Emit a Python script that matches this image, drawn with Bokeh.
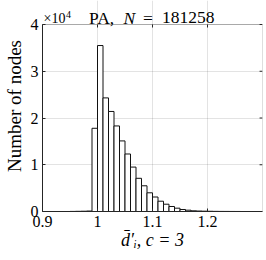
from bokeh.plotting import figure
from bokeh.models import Range1d, FixedTicker, CustomJSTickFormatter, BoxAnnotation
from bokeh.core.properties import value
from bokeh.embed import file_html
from bokeh.resources import INLINE

# data (counts per bin, bin width 0.01)
bin_left = [0.95, 0.96, 0.97, 0.98, 0.99, 1.00, 1.01, 1.02, 1.03, 1.04, 1.05, 1.06,
            1.07, 1.08, 1.09, 1.10, 1.11, 1.12, 1.13, 1.14, 1.15, 1.16, 1.17,
            1.18, 1.19, 1.20, 1.21, 1.22, 1.23, 1.24, 1.25]
bin_width = 0.01
counts = [20, 40, 60, 100, 17800, 35500, 24300, 21400, 18300, 15100, 12300, 9500,
          7100, 5500, 4000, 3100, 2200, 1560, 1070, 710, 430, 280, 150,
          100, 70, 50, 30, 20, 15, 10, 5]
x_min, x_max = 0.9, 1.3
y_min, y_max = 0, 40000
x_ticks = [0.9, 1.0, 1.1, 1.2]
y_ticks = [0, 10000, 20000, 30000, 40000]
title_parts = ["PA,", "N", "=", "181258"]
exp_parts = ["\u00d710", "4"]
x_label = "d\u0304\u2032\u1d62, c = 3"
y_label = "Number of nodes"

FONT = "Liberation Serif"
AX = "#262626"
W, H = 266, 260
LEFT, RIGHT = 37, 4  # px beside the axes box
BOTTOM = 49          # px reserved below the axes box
HEADER = 24          # px above the axes box for title / exponent
TICK = 3             # inward tick length, px
frame_h = H - BOTTOM
frame_w = W - LEFT - RIGHT
y_top = y_max * frame_h / (frame_h - HEADER)

p = figure(width=W, height=H, output_backend="svg", toolbar_location=None,
           x_range=Range1d(x_min, x_max), y_range=Range1d(y_min, y_top),
           min_border_left=LEFT, min_border_right=RIGHT, min_border_top=0,
           min_border_bottom=BOTTOM)
p.outline_line_color = None
p.background_fill_color = "white"
p.border_fill_color = "white"

p.quad(left=bin_left, right=[b + bin_width for b in bin_left], bottom=0, top=counts,
       fill_color="white", line_color="#111111", line_width=1)

for ax in (p.xaxis[0], p.yaxis[0]):
    ax.axis_line_color = AX
    ax.major_tick_line_color = AX
    ax.major_tick_in = TICK
    ax.major_tick_out = 0
    ax.minor_tick_in = 0
    ax.minor_tick_out = 0
    ax.major_label_text_font = FONT
    ax.major_label_text_font_size = "16px"
    ax.major_label_text_color = "#000000"
    ax.axis_label_text_font = FONT
    ax.axis_label_text_color = "#000000"

p.yaxis.bounds = (y_min, y_max)
p.xaxis.ticker = FixedTicker(ticks=x_ticks)
p.yaxis.ticker = FixedTicker(ticks=y_ticks)
p.xaxis.formatter = CustomJSTickFormatter(code="return String(Math.round(tick*10)/10)")
p.yaxis.formatter = CustomJSTickFormatter(code="return String(Math.round(tick/1e4))")
p.xaxis.axis_label = x_label
p.xaxis.axis_label_text_font_style = "italic"
p.xaxis.axis_label_text_font_size = "18px"
p.yaxis.axis_label = y_label
p.yaxis.axis_label_text_font_style = "normal"
p.yaxis.axis_label_text_font_size = "19px"
p.xaxis.major_label_standoff = 4
p.xaxis.axis_label_standoff = 0
p.yaxis.major_label_standoff = 4
p.yaxis.axis_label_standoff = 3

p.xgrid.ticker = FixedTicker(ticks=x_ticks)
p.ygrid.ticker = FixedTicker(ticks=y_ticks)
p.xgrid.bounds = (y_min, y_max)
p.grid.grid_line_color = "#000000"
p.grid.grid_line_alpha = 0.11

# axes box (MATLAB style) with inward ticks on top and right
dy = TICK * (y_top - y_min) / frame_h
dx = TICK * (x_max - x_min) / frame_w
p.segment(x0=x_ticks, y0=[y_max] * len(x_ticks), x1=x_ticks, y1=[y_max - dy] * len(x_ticks),
          line_color=AX, line_width=1)
p.segment(x0=[x_max] * len(y_ticks), y0=y_ticks, x1=[x_max - dx] * len(y_ticks), y1=y_ticks,
          line_color=AX, line_width=1)
p.add_layout(BoxAnnotation(left=x_min, right=x_max, bottom=y_min, top=y_max,
                           fill_color=None, line_color=AX, line_width=1, level="overlay"))

# header texts: exponent at top-left of the box, title centred above it
x_mid = (x_min + x_max) / 2
txt = dict(text_font=value(FONT), text_baseline="alphabetic", text_align="left",
           text_color="black")
p.text(x=[x_min], y=[y_max], text=[exp_parts[0]], x_offset=1, y_offset=-6,
       text_font_size=value("14px"), **txt)
p.text(x=[x_min], y=[y_max], text=[exp_parts[1]], x_offset=23.5, y_offset=-10.5,
       text_font_size=value("10px"), **txt)
p.text(x=[x_mid], y=[y_max], text=[title_parts[0]], x_offset=-63.5, y_offset=-7,
       text_font_size=value("17.5px"), **txt)
p.text(x=[x_mid], y=[y_max], text=[title_parts[1]], x_offset=-29, y_offset=-7,
       text_font_size=value("17.5px"), text_font_style="italic", **txt)
p.text(x=[x_mid], y=[y_max], text=[title_parts[2]], x_offset=-9.5, y_offset=-7,
       text_font_size=value("17.5px"), **txt)
p.text(x=[x_mid], y=[y_max], text=[title_parts[3]], x_offset=9.5, y_offset=-7,
       text_font_size=value("17.5px"), **txt)

open("out.html", "w").write(file_html(p, INLINE))
